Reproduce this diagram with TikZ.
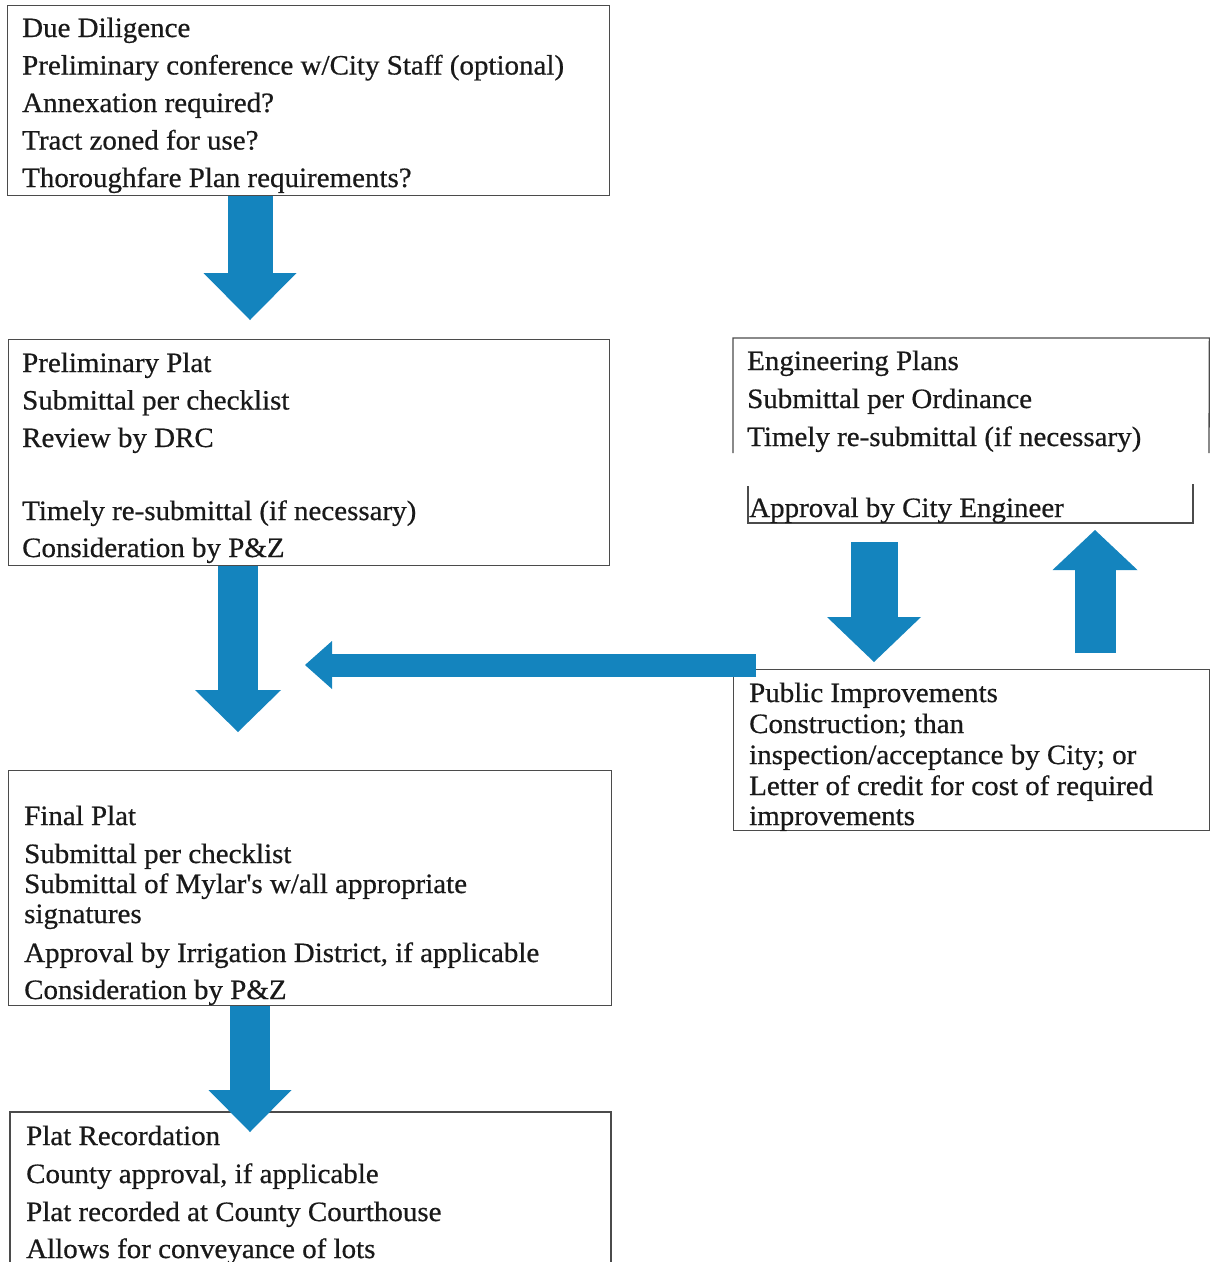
\documentclass[tikz,border=0pt]{standalone}
\usepackage{fontspec}
\setmainfont{Liberation Serif}[FakeStretch=1.035, FakeBold=0.6]
\usepackage{tikz}
\usetikzlibrary{arrows.meta,calc}

\definecolor{arrowblue}{RGB}{20,132,190}
\definecolor{boxline}{RGB}{75,75,75}

\tikzset{
    box/.style={draw=boxline, line width=1.3pt, inner sep=0pt, anchor=north west},
    txt/.style={anchor=base west, inner sep=0pt, text=black!90, font=\fontsize{28}{30}\selectfont},
    fat/.style={draw=arrowblue, line cap=butt}
}

\begin{document}
\begin{tikzpicture}[x=1pt, y=-1pt]
    \useasboundingbox (0,0) rectangle (1210,1262);

    % Boxes
    \node[box, minimum width=602pt, minimum height=190pt] (dd) at (7,5) {};
    \node[box, minimum width=601pt, minimum height=226pt] (pp) at (8,339) {};
    \node[box, minimum width=603pt, minimum height=235pt] (fp) at (8,770) {};
    \node[box, minimum width=476pt, minimum height=161pt] (pi) at (733,669) {};
    \node[inner sep=0pt, minimum width=476pt, minimum height=185pt, anchor=north west] (ep) at (733,338) {};

    % Engineering Plans box has a broken border
    \draw[boxline, line width=1.3pt] (733,453) |- (ep.north east) -- (1209,453);
    \draw[boxline, line width=1.3pt] (748,486) |- (1193,523) -- (1193,484);

    % Plat Recordation box runs off the page
    \node[inner sep=0pt, minimum width=601pt, minimum height=150pt, anchor=north west] (pr) at (10,1112) {};
    \draw[boxline, line width=1.3pt] (10,1262) |- (611,1112) -- (611,1262);

    % Texts
    \foreach \y/\t [count=\i] in {37/{Due Diligence},
        74.5/{Preliminary conference w/City Staff (optional)},
        112/{Annexation required?}, 149.5/{Tract zoned for use?},
        187/{Thoroughfare Plan requirements?}}
        \node[txt] (dd-\i) at (22,\y) {\t};

    \foreach \y/\t [count=\i] in {372/{Preliminary Plat}, 409.5/{Submittal per checklist},
        447/{Review by DRC}, 520/{Timely re-submittal (if necessary)},
        557/{Consideration by P\&Z}}
        \node[txt] (pp-\i) at (22,\y) {\t};

    \foreach \y/\t [count=\i] in {370/{Engineering Plans}, 408/{Submittal per Ordinance},
        446/{Timely re-submittal (if necessary)}}
        \node[txt] (ep-\i) at (747,\y) {\t};
    \node[txt] (ep-4) at (749,517) {Approval by City Engineer};

    \foreach \y/\t [count=\i] in {702/{Public Improvements}, 733/{Construction; than},
        764/{inspection/acceptance by City; or},
        795/{Letter of credit for cost of required}, 825/{improvements}}
        \node[txt] (pi-\i) at (749,\y) {\t};

    \foreach \y/\t [count=\i] in {825/{Final Plat}, 863/{Submittal per checklist},
        893/{Submittal of Mylar\textquotesingle s w/all appropriate}, 923/{signatures},
        962/{Approval by Irrigation District, if applicable},
        999/{Consideration by P\&Z}}
        \node[txt] (fp-\i) at (24,\y) {\t};

    \foreach \y/\t [count=\i] in {1145/{Plat Recordation}, 1183/{County approval, if applicable},
        1221/{Plat recorded at County Courthouse}, 1258/{Allows for conveyance of lots}}
        \node[txt] (pr-\i) at (26,\y) {\t};

    % Arrow ends
    \coordinate (t1) at (250,320);
    \coordinate (t2) at (238,732);
    \coordinate (s3) at (756,665);
    \coordinate (t3) at (305,665);
    \coordinate (s4) at (874,542);
    \coordinate (t4) at (874,662);
    \coordinate (s5) at (1095,653);
    \coordinate (t5) at (1095,530);
    \coordinate (t6) at (250,1132);

    % Block arrows
    \draw[fat, line width=45pt, -{Triangle[length=47pt,width=93pt,line width=0pt]}] (t1 |- dd.south) -- (t1);
    \draw[fat, line width=40pt, -{Triangle[length=42pt,width=86pt,line width=0pt]}] (t2 |- pp.south) -- (t2);
    \draw[fat, line width=23pt, -{Triangle[length=27pt,width=48pt,line width=0pt]}] (s3) -- (t3);
    \draw[fat, line width=47pt, -{Triangle[length=45pt,width=94pt,line width=0pt]}] (s4) -- (t4);
    \draw[fat, line width=41pt, -{Triangle[length=40pt,width=85pt,line width=0pt]}] (s5) -- (t5);
    \draw[fat, line width=40pt, -{Triangle[length=42pt,width=83pt,line width=0pt]}] (t6 |- fp.south) -- (t6);
\end{tikzpicture}
\end{document}
